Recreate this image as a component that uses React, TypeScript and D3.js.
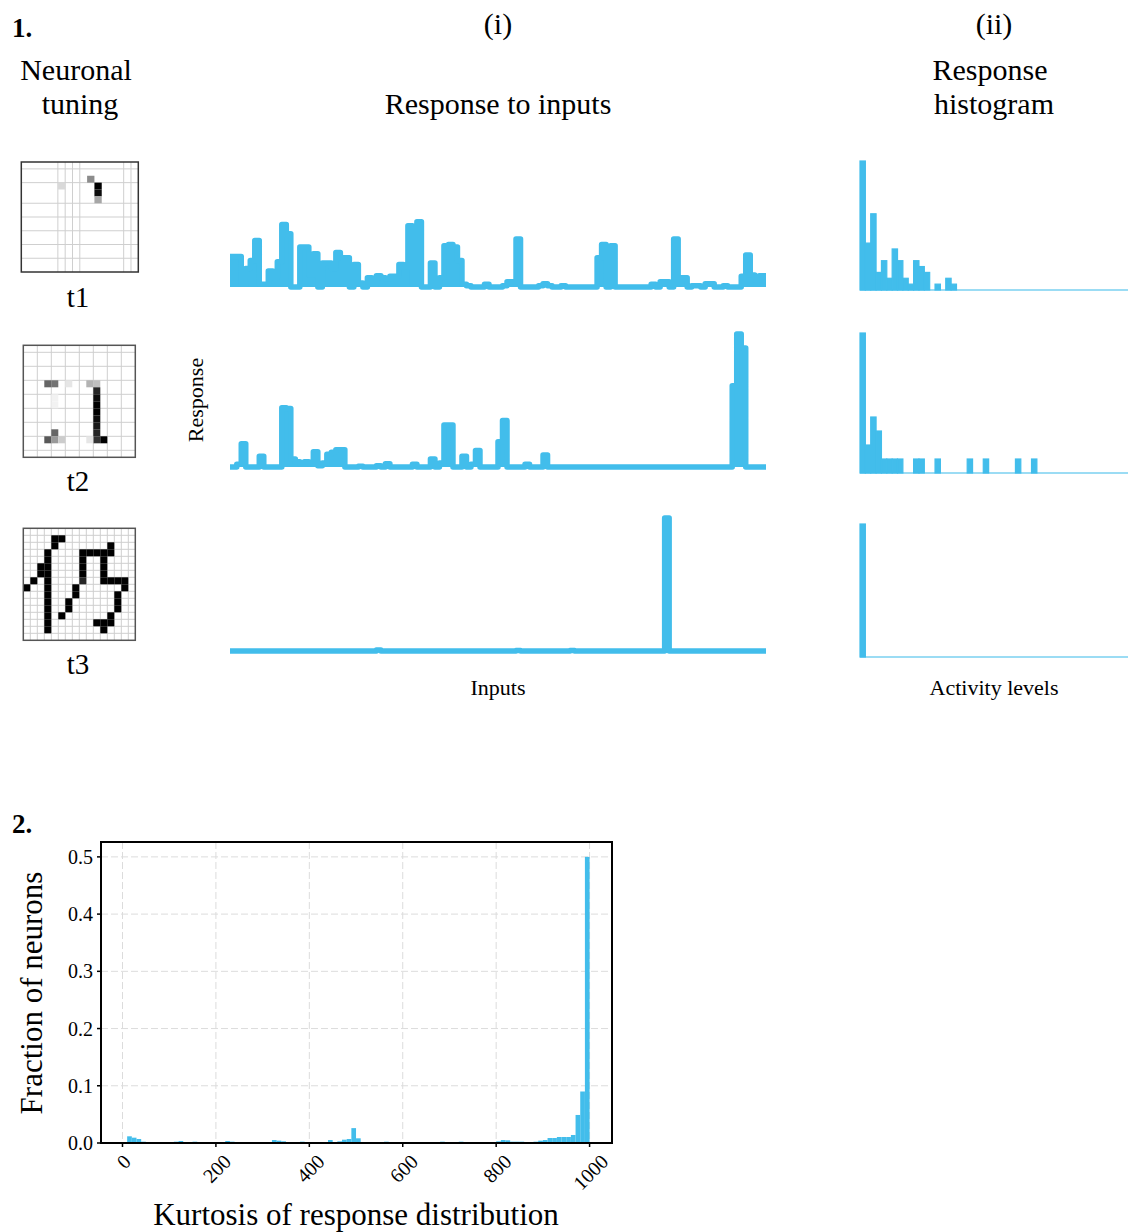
import React from "react";
import * as d3 from "d3";

const BLUE = "#42BDEB";
const FONT = "'Liberation Serif', 'Times New Roman', serif";

// ---------- Panel 1 (i): response of each neuron to the inputs ----------
const responseT1 = [
  0.23, 0.23, 0.23, 0.02, 0.14, 0.2, 0.35, 0.02, 0.02, 0.12,
  0.07, 0.19, 0.47, 0.4, 0, 0, 0.3, 0.3, 0.09, 0.25,
  0, 0.18, 0.18, 0.14, 0.26, 0.22, 0.22, 0, 0.17, 0.03,
  0, 0.07, 0.02, 0.085, 0.07, 0.06, 0.08, 0.08, 0.17, 0.15,
  0.46, 0.02, 0.49, 0, 0, 0.18, 0, 0.07, 0.31, 0.32,
  0.3, 0.2, 0.02, 0.01, 0, 0, 0, 0.02, 0, 0,
  0, 0.01, 0.04, 0.04, 0.36, 0, 0, 0, 0, 0.01,
  0.025, 0.01, 0, 0, 0.01, 0, 0, 0, 0, 0,
  0, 0, 0.22, 0.32, 0, 0.31, 0, 0, 0, 0,
  0, 0, 0, 0, 0.02, 0, 0.04, 0.04, 0, 0.36,
  0.07, 0.07, 0, 0.01, 0.01, 0, 0.025, 0.025, 0, 0,
  0.01, 0, 0, 0, 0.08, 0.24, 0.09, 0.05, 0.085, 0.085,
];
const responseT2 = [
  0, 0, 0.02, 0.175, 0, 0, 0, 0.08, 0, 0,
  0, 0, 0.445, 0.44, 0.06, 0.04, 0.02, 0.04, 0.02, 0.115,
  0.01, 0.03, 0.095, 0.11, 0.13, 0.13, 0, 0, 0, 0.005,
  0, 0, 0, 0.01, 0, 0.025, 0, 0, 0, 0,
  0, 0.02, 0, 0, 0, 0.06, 0, 0.03, 0.315, 0.315,
  0, 0, 0.08, 0, 0.02, 0.125, 0, 0, 0, 0,
  0.19, 0.35, 0, 0, 0, 0, 0.02, 0, 0, 0,
  0.09, 0, 0, 0, 0, 0, 0, 0, 0, 0,
  0, 0, 0, 0, 0, 0, 0, 0, 0, 0,
  0, 0, 0, 0, 0, 0, 0, 0, 0, 0,
  0, 0, 0, 0, 0, 0, 0, 0, 0, 0,
  0, 0, 0.61, 1.0, 0.895, 0, 0, 0, 0, 0,
];
const responseT3 = [
  0, 0, 0, 0, 0, 0, 0, 0, 0, 0,
  0, 0, 0, 0, 0, 0, 0, 0, 0, 0,
  0, 0, 0, 0, 0, 0, 0, 0, 0, 0,
  0, 0, 0, 0.008, 0, 0, 0, 0, 0, 0,
  0, 0, 0, 0, 0, 0, 0, 0, 0, 0,
  0, 0, 0, 0, 0, 0, 0, 0, 0, 0,
  0, 0, 0, 0, 0.003, 0, 0, 0, 0, 0,
  0, 0, 0, 0, 0, 0, 0.003, 0, 0, 0,
  0, 0, 0, 0, 0, 0, 0, 0, 0, 0,
  0, 0, 0, 0, 0, 0, 0, 1.0, 0, 0,
  0, 0, 0, 0, 0, 0, 0, 0, 0, 0,
  0, 0, 0, 0, 0, 0, 0, 0, 0, 0,
];

// ---------- Panel 1 (ii): histogram of response (counts per activity bin) ----------
const histT1 = [
  22, 8, 13, 3, 5, 2, 7, 5, 2, 1,
  5, 4, 3, 0, 1, 0, 2, 1, 0, 0,
  0, 0, 0, 0, 0, 0, 0, 0, 0, 0,
  0, 0, 0, 0, 0, 0, 0, 0, 0, 0,
  0, 0, 0, 0, 0, 0, 0, 0, 0, 0,
];
const histT2 = [
  10, 2, 4, 3, 1, 1, 1, 1, 0, 0,
  1, 1, 0, 0, 1, 0, 0, 0, 0, 0,
  1, 0, 0, 1, 0, 0, 0, 0, 0, 1,
  0, 0, 1, 0, 0, 0, 0, 0, 0, 0,
  0, 0, 0, 0, 0, 0, 0, 0, 0, 0,
];
const histT3 = [
  120, 0, 0, 0, 0, 0, 0, 0, 0, 0,
  0, 0, 0, 0, 0, 0, 0, 0, 0, 0,
  0, 0, 0, 0, 0, 0, 0, 0, 0, 0,
  0, 0, 0, 0, 0, 0, 0, 0, 0, 0,
  0, 0, 0, 0, 0, 0, 0, 0, 0, 0,
];

// ---------- Neuronal tuning images (16x16): [col, row, darkness] ----------
const tuningT1 = [
  [5, 3, 0.15], [9, 2, 0.45], [10, 3, 1], [10, 4, 0.95], [10, 5, 0.35],
];
const tuningT1GridCols = [5, 6, 7, 8, 14, 15];
const tuningT1GridRows = [1, 3, 6, 8, 10, 12, 14];
const tuningT2 = [
  [3, 5, 0.6], [4, 5, 0.55], [6, 5, 0.1], [9, 5, 0.3], [10, 5, 0.25],
  [10, 6, 0.85], [10, 7, 0.95], [10, 8, 1], [10, 9, 1], [10, 10, 0.95],
  [10, 11, 0.9], [10, 12, 0.85], [10, 13, 0.8], [11, 13, 1], [9, 13, 0.1],
  [4, 12, 0.6], [3, 13, 0.65], [4, 13, 0.4], [5, 13, 0.2], [4, 7, 0.05], [4, 8, 0.05],
];
const tuningT2GridCols = [2, 4, 6, 8, 10, 12, 14];
const tuningT2GridRows = [1, 3, 5, 7, 9, 11, 13, 15];
const tuningT3 = [
  [4, 1, 1], [5, 1, 1], [4, 2, 1], [3, 3, 1], [3, 4, 1], [2, 5, 1], [3, 5, 1],
  [2, 6, 1], [3, 6, 1], [1, 7, 1], [3, 7, 1], [0, 8, 1], [3, 8, 1], [3, 9, 1],
  [3, 10, 1], [3, 11, 1], [3, 12, 1], [3, 13, 1], [3, 14, 1],
  [12, 2, 1], [8, 3, 1], [9, 3, 1], [10, 3, 1], [11, 3, 1], [12, 3, 1],
  [8, 4, 1], [11, 4, 1], [8, 5, 1], [11, 5, 1], [8, 6, 1], [11, 6, 1], [8, 7, 0.85],
  [11, 7, 1], [12, 7, 1], [13, 7, 1], [14, 7, 1], [7, 8, 1], [14, 8, 1],
  [7, 9, 1], [13, 9, 1], [6, 10, 1], [13, 10, 1], [6, 11, 1], [13, 11, 1],
  [5, 12, 1], [12, 12, 1], [10, 13, 1], [11, 13, 1], [12, 13, 1], [11, 14, 1],
];
const tuningT3Grid = [1, 2, 3, 4, 5, 6, 7, 8, 9, 10, 11, 12, 13, 14, 15];

// ---------- Panel 2: kurtosis distribution (fraction of neurons, bins of 10) ----------
const kurtosisBinWidth = 10;
const kurtosisFraction = [
  0.001, 0.0117, 0.0093, 0.007, 0.0023, 0.0012, 0.0012, 0.0012, 0.0012, 0.0012,
  0.0017, 0.0023, 0.0035, 0.0017, 0.0017, 0.0023, 0.0012, 0.0012, 0.0012, 0.0012,
  0.0006, 0.0017, 0.0035, 0.0023, 0.0012, 0.0012, 0.0006, 0.0006, 0.0012, 0.0012,
  0.0012, 0.0017, 0.0052, 0.0041, 0.0029, 0.0012, 0.0006, 0.0012, 0.0023, 0.0017,
  0.0012, 0.0012, 0.0012, 0.0012, 0.0052, 0.0017, 0.0029, 0.0058, 0.007, 0.026,
  0.0082, 0.0012, 0.0012, 0.0006, 0.0012, 0.0017, 0.0023, 0.0012, 0.0006, 0.0006,
  0.0012, 0.0006, 0, 0.0006, 0.0012, 0.0006, 0.0012, 0.0012, 0.0023, 0.0006,
  0, 0.0012, 0.0023, 0.0017, 0.0012, 0.0012, 0.0012, 0.0012, 0.0012, 0.0017,
  0.0029, 0.0052, 0.0047, 0.0023, 0.0023, 0.0023, 0.0017, 0.0017, 0.0023, 0.0041,
  0.0052, 0.0087, 0.0087, 0.0105, 0.0105, 0.0105, 0.014, 0.049, 0.09, 0.5,
];
const kurtosisTicks = [0, 200, 400, 600, 800, 1000];
const fractionTicks = [0, 0.1, 0.2, 0.3, 0.4, 0.5];

function ResponseLine({ data, baseline }: { data: number[]; baseline: number }) {
  const x = d3.scaleLinear().domain([0, data.length - 1]).range([230, 766]);
  const y = d3.scaleLinear().domain([0, 1]).range([baseline, baseline - 133]);
  const area = d3
    .area<number>()
    .x((_, i) => x(i))
    .y0(baseline)
    .y1((d) => y(d))
    .curve(d3.curveStep);
  const line = d3
    .line<number>()
    .x((_, i) => x(i))
    .y((d) => y(d))
    .curve(d3.curveStep);
  return (
    <g>
      <path d={area(data) || ""} fill={BLUE} stroke="none" />
      <path
        d={line(data) || ""}
        fill="none"
        stroke={BLUE}
        strokeWidth={5.5}
        strokeLinejoin="round"
        strokeLinecap="butt"
      />
    </g>
  );
}

function Histogram({ data, baseline, top }: { data: number[]; baseline: number; top: number }) {
  const x = d3.scaleLinear().domain([0, data.length]).range([860, 1128]);
  const y = d3.scaleLinear().domain([0, d3.max(data) || 1]).range([baseline, top]);
  return (
    <g>
      <line x1={x(0)} x2={x(data.length)} y1={baseline} y2={baseline} stroke={BLUE} strokeOpacity={0.7} strokeWidth={1.5} />
      {data.map((v, i) =>
        v > 0 ? (
          <rect
            key={i}
            x={x(i)}
            width={x(i + 1) - x(i)}
            y={y(v)}
            height={baseline - y(v)}
            fill={BLUE}
            stroke={BLUE}
            strokeWidth={1.2}
          />
        ) : null
      )}
    </g>
  );
}

function TuningImage({
  x0, y0, w, h, cells, cols, rows, frame,
}: {
  x0: number; y0: number; w: number; h: number;
  cells: number[][]; cols: number[]; rows: number[]; frame: string;
}) {
  const sx = d3.scaleLinear().domain([0, 16]).range([x0, x0 + w]);
  const sy = d3.scaleLinear().domain([0, 16]).range([y0, y0 + h]);
  const shade = (v: number) => {
    const g = Math.round(255 * (1 - v));
    return `rgb(${g},${g},${g})`;
  };
  return (
    <g>
      <rect x={x0} y={y0} width={w} height={h} fill="#fff" />
      {cols.map((c) => (
        <line key={"c" + c} x1={sx(c)} x2={sx(c)} y1={y0} y2={y0 + h} stroke="#cfcfcf" strokeWidth={1} />
      ))}
      {rows.map((r) => (
        <line key={"r" + r} x1={x0} x2={x0 + w} y1={sy(r)} y2={sy(r)} stroke="#cfcfcf" strokeWidth={1} />
      ))}
      {cells.map(([c, r, v], i) => (
        <rect
          key={i}
          x={sx(c)}
          y={sy(r)}
          width={sx(c + 1) - sx(c)}
          height={sy(r + 1) - sy(r)}
          fill={shade(v)}
        />
      ))}
      <rect x={x0} y={y0} width={w} height={h} fill="none" stroke={frame} strokeWidth={1.5} />
    </g>
  );
}

function KurtosisChart() {
  const left = 101, right = 612, top = 842, bottom = 1143;
  const x = d3.scaleLinear().domain([-46, 1048]).range([left, right]);
  const y = d3.scaleLinear().domain([0, 0.526]).range([bottom, top]);
  const fs = 20;
  return (
    <g>
      {kurtosisTicks.map((t) => (
        <line key={"gx" + t} x1={x(t)} x2={x(t)} y1={top} y2={bottom} stroke="#dcdcdc" strokeWidth={1} strokeDasharray="7,3" />
      ))}
      {fractionTicks.map((t) => (
        <line key={"gy" + t} x1={left} x2={right} y1={y(t)} y2={y(t)} stroke="#dcdcdc" strokeWidth={1} strokeDasharray="7,3" />
      ))}
      {kurtosisFraction.map((v, i) => {
        const x0 = x(i * kurtosisBinWidth);
        const x1 = x((i + 1) * kurtosisBinWidth);
        return <rect key={i} x={x0} width={x1 - x0} y={y(v)} height={bottom - y(v)} fill={BLUE} />;
      })}
      <rect x={left} y={top} width={right - left} height={bottom - top} fill="none" stroke="#000" strokeWidth={2} />
      {kurtosisTicks.map((t) => {
        const len = String(t).length * 0.5 * fs;
        const half = ((len + 0.7 * fs) * 0.7071) / 2;
        const cx = x(t) + 1;
        const cy = 1153 + half;
        return (
          <g key={"tx" + t}>
            <line x1={x(t)} x2={x(t)} y1={bottom} y2={bottom + 4} stroke="#000" strokeWidth={1.5} />
            <text
              x={cx}
              y={cy}
              textAnchor="middle"
              dominantBaseline="central"
              fontSize={fs}
              fontFamily={FONT}
              transform={`rotate(-45, ${cx}, ${cy})`}
            >
              {t}
            </text>
          </g>
        );
      })}
      {fractionTicks.map((t) => (
        <g key={"ty" + t}>
          <line x1={left - 4} x2={left} y1={y(t)} y2={y(t)} stroke="#000" strokeWidth={1.5} />
          <text x={93} y={y(t)} textAnchor="end" dominantBaseline="central" fontSize={fs} fontFamily={FONT}>
            {t.toFixed(1)}
          </text>
        </g>
      ))}
      <text x={356} y={1225} textAnchor="middle" fontSize={31} fontFamily={FONT}>
        Kurtosis of response distribution
      </text>
      <text transform="translate(42,993) rotate(-90)" textAnchor="middle" fontSize={31} fontFamily={FONT}>
        Fraction of neurons
      </text>
    </g>
  );
}

export default function App() {
  return (
    <svg
      width={1133}
      height={1232}
      style={{ position: "absolute", left: 0, top: 0, background: "#fff" }}
      fontFamily={FONT}
    >
      <rect x={0} y={0} width={1133} height={1232} fill="#fff" />
      {/* Panel 1 headers */}
      <text x={12} y={37} fontSize={27} fontWeight="bold">1.</text>
      <text x={498} y={34} fontSize={30} textAnchor="middle">(i)</text>
      <text x={994} y={34} fontSize={30} textAnchor="middle">(ii)</text>
      <text x={76} y={80} fontSize={30} textAnchor="middle">Neuronal</text>
      <text x={80} y={114} fontSize={30} textAnchor="middle">tuning</text>
      <text x={498} y={114} fontSize={30} textAnchor="middle">Response to inputs</text>
      <text x={990} y={80} fontSize={30} textAnchor="middle">Response</text>
      <text x={994} y={114} fontSize={30} textAnchor="middle">histogram</text>

      {/* Tuning images */}
      <TuningImage x0={21.3} y0={162} w={117} h={110} cells={tuningT1} cols={tuningT1GridCols} rows={tuningT1GridRows} frame="#333" />
      <TuningImage x0={23.3} y0={345.3} w={112} h={112} cells={tuningT2} cols={tuningT2GridCols} rows={tuningT2GridRows} frame="#555" />
      <TuningImage x0={23.3} y0={528.3} w={112} h={112} cells={tuningT3} cols={tuningT3Grid} rows={tuningT3Grid} frame="#555" />
      <text x={78} y={307} fontSize={29} textAnchor="middle">t1</text>
      <text x={78} y={491} fontSize={29} textAnchor="middle">t2</text>
      <text x={78} y={674} fontSize={29} textAnchor="middle">t3</text>

      {/* Responses */}
      <ResponseLine data={responseT1} baseline={287} />
      <ResponseLine data={responseT2} baseline={467} />
      <ResponseLine data={responseT3} baseline={651} />
      <text transform="translate(203,400) rotate(-90)" textAnchor="middle" fontSize={22}>Response</text>
      <text x={498} y={695} fontSize={22} textAnchor="middle">Inputs</text>

      {/* Histograms */}
      <Histogram data={histT1} baseline={290} top={161} />
      <Histogram data={histT2} baseline={473} top={333} />
      <Histogram data={histT3} baseline={657} top={524} />
      <text x={994} y={695} fontSize={22} textAnchor="middle">Activity levels</text>

      {/* Panel 2 */}
      <text x={12} y={833} fontSize={27} fontWeight="bold">2.</text>
      <KurtosisChart />
    </svg>
  );
}
